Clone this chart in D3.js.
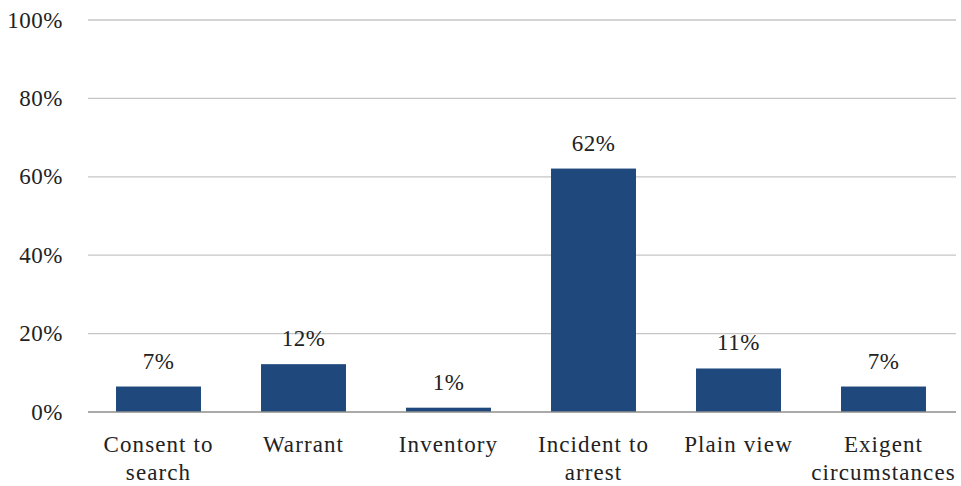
<!DOCTYPE html>
<html><head><meta charset="utf-8">
<script src="https://cdn.jsdelivr.net/npm/d3@7"></script>
<style>body{margin:0;background:#fff}svg{display:block}</style>
</head><body>
<svg id="c" width="961" height="486"></svg>
<script>
const categories = [["Consent to","search"],["Warrant"],["Inventory"],["Incident to","arrest"],["Plain view"],["Exigent","circumstances"]];
const values = [6.5, 12.2, 1.1, 62.1, 11.1, 6.5];
const valueLabels = ["7%","12%","1%","62%","11%","7%"];
const yTicks = [0,20,40,60,80,100];

(function(){
const svg = d3.select("#c");
const font = "'Liberation Serif'";
const mLeft = 88, mTop = 20, mBottom = 412;
const x = d3.scaleBand().domain(d3.range(categories.length)).range([86, 956]).paddingInner(0.414).paddingOuter(0.207);
const y = d3.scaleLinear().domain([0,100]).range([mBottom, mTop]);

// gridlines
svg.append("g").selectAll("line").data(yTicks.filter(d=>d>0)).join("line")
  .attr("x1", mLeft).attr("x2", 956).attr("y1", d=>y(d)).attr("y2", d=>y(d))
  .attr("stroke", "#c6c6c6").attr("stroke-width", 1.3);

// y labels
svg.append("g").selectAll("text").data(yTicks).join("text")
  .attr("x", 63).attr("y", d=>y(d)+7.5).attr("text-anchor","end")
  .style("font-family", font).style("font-size", "23px").style("letter-spacing","0.5px").attr("fill","#222")
  .text(d=>d+"%");

// bars
svg.append("g").selectAll("rect").data(values).join("rect")
  .attr("x", (d,i)=>x(i)).attr("width", x.bandwidth())
  .attr("y", d=>y(d)).attr("height", d=>y(0)-y(d))
  .attr("fill", "#1f497c");

// baseline
svg.append("line").attr("x1", mLeft).attr("x2", 956).attr("y1", y(0)).attr("y2", y(0))
  .attr("stroke", "#8e8e8e").attr("stroke-width", 1.3);

// value labels
svg.append("g").selectAll("text").data(values).join("text")
  .attr("x", (d,i)=>x(i)+x.bandwidth()/2).attr("y", d=>y(d)-18)
  .attr("text-anchor","middle").style("font-family", font).style("font-size", "23px").style("letter-spacing","0.5px").attr("fill","#222")
  .text((d,i)=>valueLabels[i]);

// category labels
const cg = svg.append("g").selectAll("text").data(categories).join("text")
  .attr("text-anchor","middle").style("font-family", font).style("font-size", "23px").attr("fill","#222")
  .style("letter-spacing", "1.1px");
cg.selectAll("tspan").data((d,i)=>d.map(s=>({s,i}))).join("tspan")
  .attr("x", d=>x(d.i)+x.bandwidth()/2).attr("y", (d,j)=>452+j*28)
  .text(d=>d.s);
})();
</script>
</body></html>
